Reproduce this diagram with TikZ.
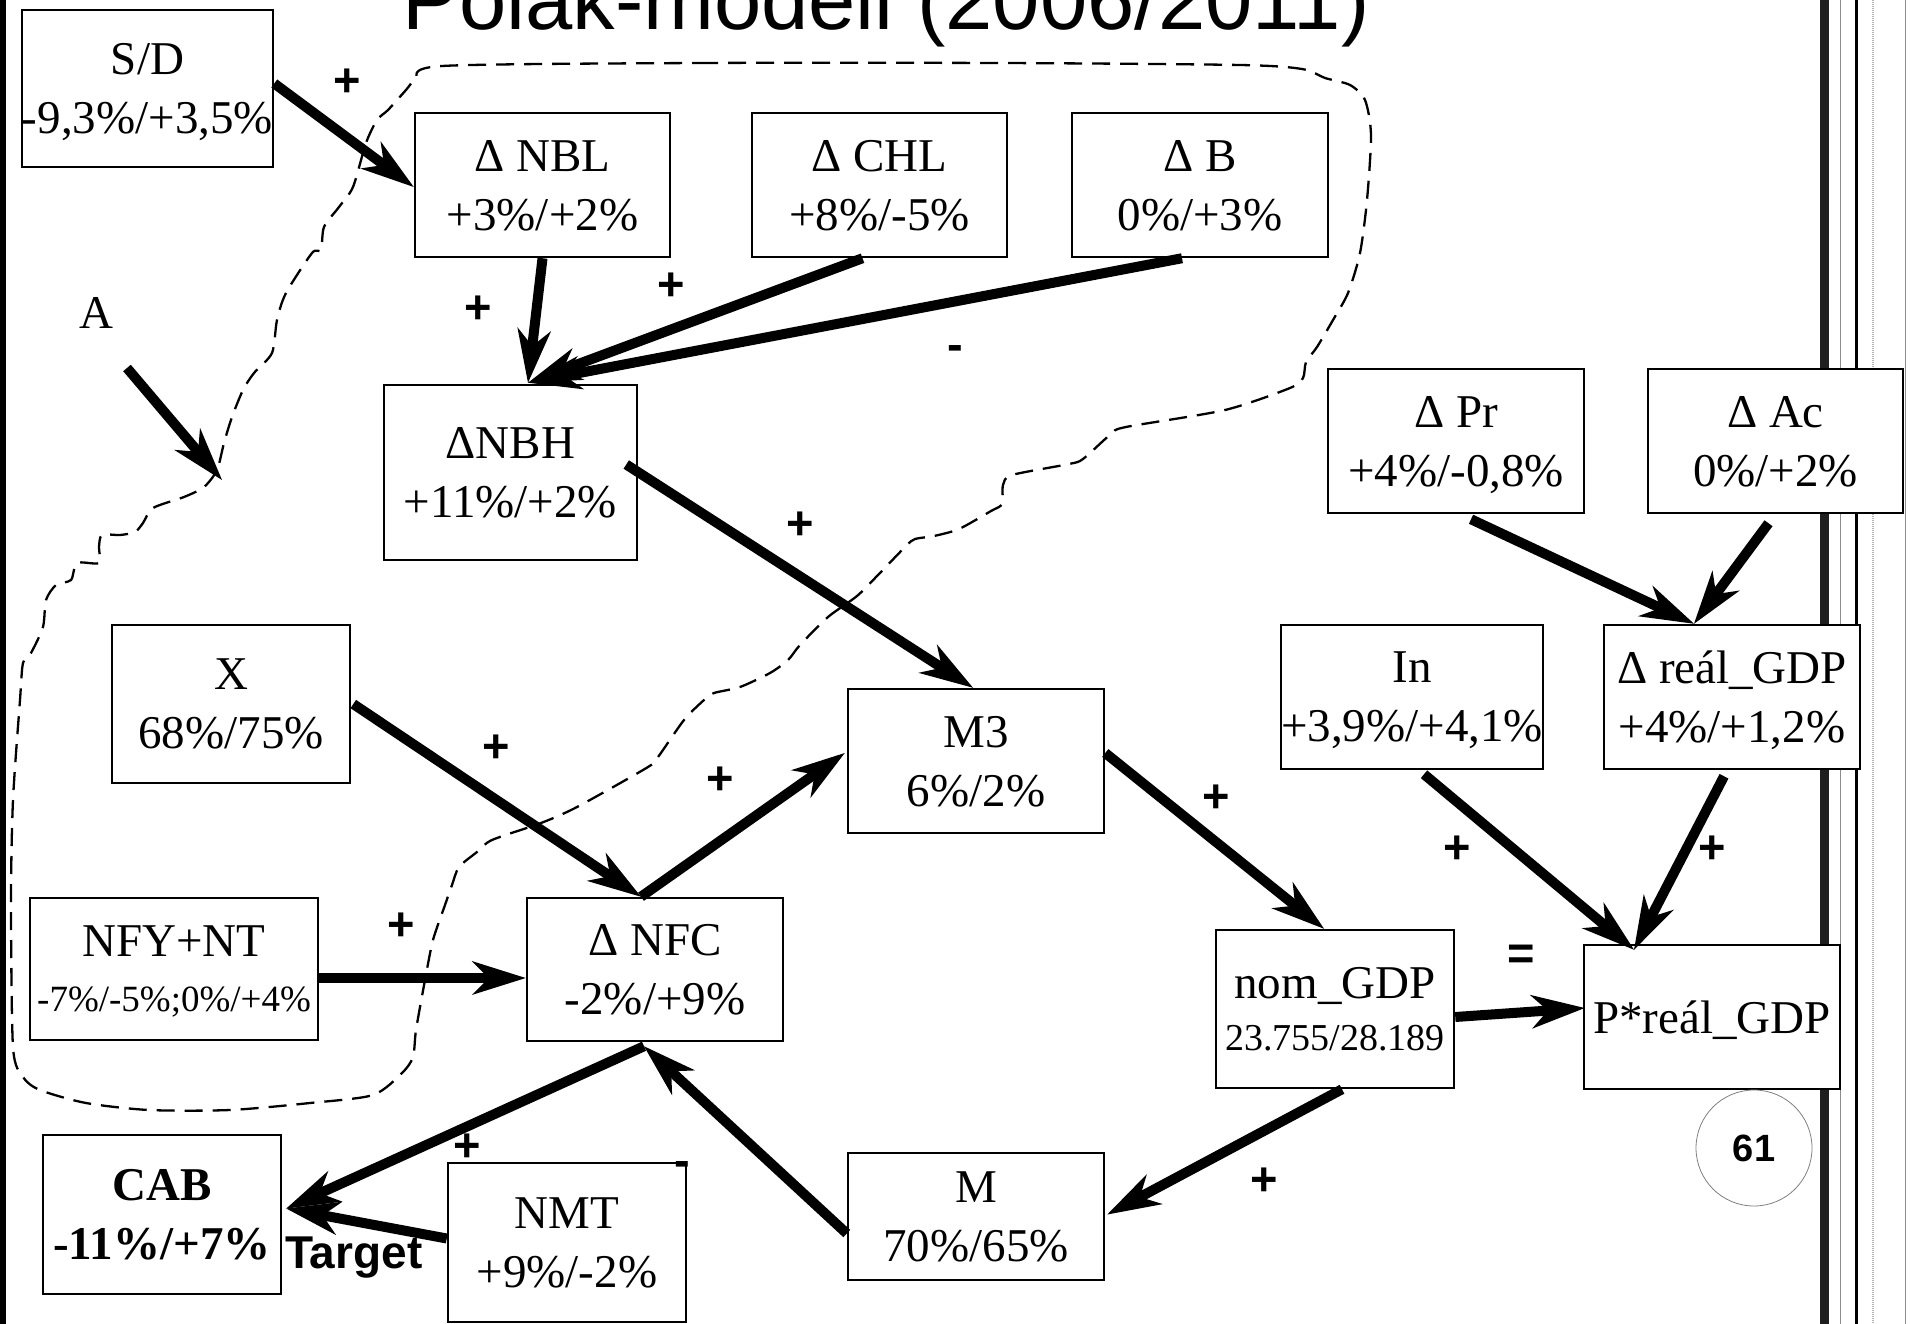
\documentclass[tikz,border=0pt]{standalone}
\usepackage{fontspec}
\setmainfont{Liberation Serif}
\setsansfont{Liberation Sans}
\usetikzlibrary{arrows.meta,calc}

\begin{document}
\begin{tikzpicture}[x=1pt,y=-1pt,
  box/.style={draw,line width=2.5pt,fill=white,inner sep=0pt,align=center,
    text depth=0pt,font=\fontsize{47}{59}\selectfont},
  arr/.style={line width=10pt,-{Stealth[length=54pt,width=34pt,inset=17pt,line width=0pt]}},
  sign/.style={font=\sffamily\bfseries\fontsize{47}{47}\selectfont,inner sep=0pt},
  lasso/.style={dash pattern=on 18pt off 10pt,line width=2.3pt},
]
\useasboundingbox (0,0) rectangle (1910,1324);
\clip (0,0) rectangle (1910,1324);
\fill[white] (0,0) rectangle (1910,1324);

% slide frame bars
\fill (0,0) rectangle (6,1324);
\fill[black!88] (1820,0) rectangle (1829,1324);
\draw[black!45,line width=1pt] (1840.5,0) -- (1840.5,1324);
\fill (1855,0) rectangle (1858,1324);
\draw[black!30,line width=2pt,dash pattern=on 1pt off 1pt] (1873,0) -- (1873,1324);
\draw[black!45,line width=1pt] (1905.5,0) -- (1905.5,1324);

% title
\node[font=\sffamily\fontsize{85}{85}\selectfont,anchor=base,inner sep=0pt] (title) at (886,30) {Polak-modell (2006/2011)};

% dashed boundary of the monetary sector
\draw[lasso] plot[smooth cycle,tension=0.45] coordinates {
 (442,66) (700,63) (1000,63) (1240,65) (1302,69) (1325,78) (1350,85) (1365,100)
 (1371,135) (1367,200) (1360,253) (1348,293) (1333,320) (1317,347) (1306,362)
 (1303,378) (1290,388) (1225,410) (1126,427) (1111,434) (1083,459) (1069,464)
 (1012,475) (1003,485) (1002,504) (991,511) (959,529) (934,536) (915,539)
 (906,546) (878,575) (857,596) (828,617) (800,645) (788,660) (770,673) (740,687)
 (714,693) (704,700) (684,720) (658,757) (648,767) (577,807) (541,823) (492,840)
 (477,852) (459,867) (452,885) (445,905) (433,940) (425,980) (416,1030) (413,1057)
 (402,1073) (373,1095) (310,1103) (230,1110) (149,1110) (86,1103) (40,1090)
 (23,1077) (13,1047) (11,900) (13,800) (20,700) (23,663) (31,653) (43,627)
 (46,600) (56,585) (71,580) (77,563) (99,563) (99,547) (102,535) (120,535)
 (135,532) (143,523) (153,508) (184,497) (204,487) (217,470) (224,443) (232,417)
 (243,390) (254,373) (272,353) (277,320) (286,293) (312,253) (321,250) (324,227)
 (339,207) (353,187) (366,143) (377,120) (388,110) (406,90) (415,80)};

% variables
\node[box,minimum width=241,minimum height=157] (SD) at (147.5,88.5) {S/D\\-9,3\%/+3,5\%};
\node[box,minimum width=255,minimum height=144] (NBL) at (542.5,185) {Δ NBL\\+3\%/+2\%};
\node[box,minimum width=255,minimum height=144] (CHL) at (879.5,185) {Δ CHL\\+8\%/-5\%};
\node[box,minimum width=256,minimum height=144] (B) at (1200,185) {Δ B\\0\%/+3\%};
\node[box,minimum width=253,minimum height=175] (NBH) at (510.5,472.5) {ΔNBH\\+11\%/+2\%};
\node[box,minimum width=256,minimum height=144] (Pr) at (1456,441) {Δ Pr\\+4\%/-0,8\%};
\node[box,minimum width=255,minimum height=144] (Ac) at (1775.5,441) {Δ Ac\\0\%/+2\%};
\node[box,minimum width=238,minimum height=158] (X) at (231,704) {X\\68\%/75\%};
\node[box,minimum width=256,minimum height=144] (M3) at (976,761) {M3\\6\%/2\%};
\node[box,minimum width=256,minimum height=144] (In) at (1412,697) {In\\+3,9\%/+4,1\%};
\node[box,minimum width=256,minimum height=144] (RGDP) at (1732,697) {Δ reál\_GDP\\+4\%/+1,2\%};
\node[box,minimum width=288,minimum height=142] (NFYNT) at (174,969) {NFY+NT\\[-4pt]{\fontsize{37}{44}\selectfont -7\%/-5\%;0\%/+4\%}};
\node[box,minimum width=256,minimum height=143] (NFC) at (655,969.5) {Δ NFC\\-2\%/+9\%};
\node[box,minimum width=238,minimum height=158] (nom) at (1335,1009) {nom\_GDP\\[-7pt]{\fontsize{38}{44}\selectfont 23.755/28.189}};
\node[box,minimum width=256,minimum height=144] (PGDP) at (1712,1017) {P*reál\_GDP};
\node[box,minimum width=238,minimum height=159,font=\fontsize{47}{59}\selectfont\bfseries] (CAB) at (162,1214.5) {CAB\\-11\%/+7\%};
\node[box,minimum width=238,minimum height=159] (NMT) at (567,1242.5) {NMT\\+9\%/-2\%};
\node[box,minimum width=256,minimum height=127] (M) at (976,1216.5) {M\\70\%/65\%};

\node[font=\fontsize{47}{59}\selectfont,inner sep=0pt] (A) at (96,313) {A};
\node[font=\sffamily\bfseries\fontsize{46}{46}\selectfont,anchor=base west,inner sep=0pt] (target) at (285,1268) {Target};
\node[draw=black!50,line width=0.8pt,circle,minimum size=116,inner sep=0pt,
  font=\sffamily\bfseries\fontsize{38}{38}\selectfont] (page) at (1754,1148) {61};

% meeting points of the arrows
\coordinate (nbhIn) at ($(NBH.north)+(17.5,-1)$);
\coordinate (nfcTop) at ($(NFC.north)+(-14,0)$);
\coordinate (nfcBot) at ($(NFC.south)+(-11,4)$);
\coordinate (cabIn) at ($(CAB.east)+(4,-6)$);
\coordinate (pTop) at ($(PGDP.north)+(-78,6)$);
\coordinate (rgIn) at ($(RGDP.north)+(-38,0)$);

% causal links
\draw[arr] ($(SD.east)+(0,-5)$) -- ($(NBL.west)+(0,2)$);
\draw[arr] (NBL.south) -- (nbhIn);
\draw[arr] ($(CHL.south)+(-17,0)$) -- (nbhIn);
\draw[arr] ($(B.south)+(-18,0)$) -- (nbhIn);
\draw[arr] ($(A)+(31,55)$) -- ($(A)+(126,167)$);
\draw[arr] ($(NBH.east)+(-12,-8)$) -- ($(M3.north)+(-3,0)$);
\draw[arr] ($(X.east)+(2,0)$) -- (nfcTop);
\draw[arr] (nfcTop) -- ($(M3.west)+(-2,-8)$);
\draw[arr] ($(NFYNT.east)+(0,9)$) -- ($(NFC.west)+(0,8.5)$);
\draw[arr] (nfcBot) -- (cabIn);
\draw[arr] ($(NMT.west)+(0,-4)$) -- (cabIn);
\draw[arr] ($(M.west)+(0,17)$) -- (nfcBot);
\draw[arr] ($(M3.east)+(0,-8)$) -- ($(nom.north)+(-11,0)$);
\draw[arr] ($(nom.south)+(7,0)$) -- ($(M.east)+(2,-2)$);
\draw[arr] ($(nom.east)+(0,8)$) -- ($(PGDP.west)+(2,-9)$);
\draw[arr] ($(In.south)+(12,4)$) -- (pTop);
\draw[arr] ($(RGDP.south)+(-8,6)$) -- (pTop);
\draw[arr] ($(Pr.south)+(15,5)$) -- (rgIn);
\draw[arr] ($(Ac.south)+(-7,9)$) -- (rgIn);

% signs of the links
\node[sign] (s1) at (347,83) {+};
\node[sign] (s2) at (478,310) {+};
\node[sign] (s3) at (671,287) {+};
\node[sign,anchor=base] (s4) at (955,360) {-};
\node[sign] (s5) at (800,526) {+};
\node[sign] (s6) at (496,749) {+};
\node[sign] (s7) at (720,781) {+};
\node[sign] (s8) at (401,927) {+};
\node[sign] (s9) at (467,1148) {+};
\node[sign,anchor=base] (s10) at (682,1176) {-};
\node[sign] (s11) at (1216,799) {+};
\node[sign] (s12) at (1264,1182) {+};
\node[sign] (s13) at (1521,957) {=};
\node[sign] (s14) at (1457,850) {+};
\node[sign] (s15) at (1712,850) {+};
\end{tikzpicture}
\end{document}
